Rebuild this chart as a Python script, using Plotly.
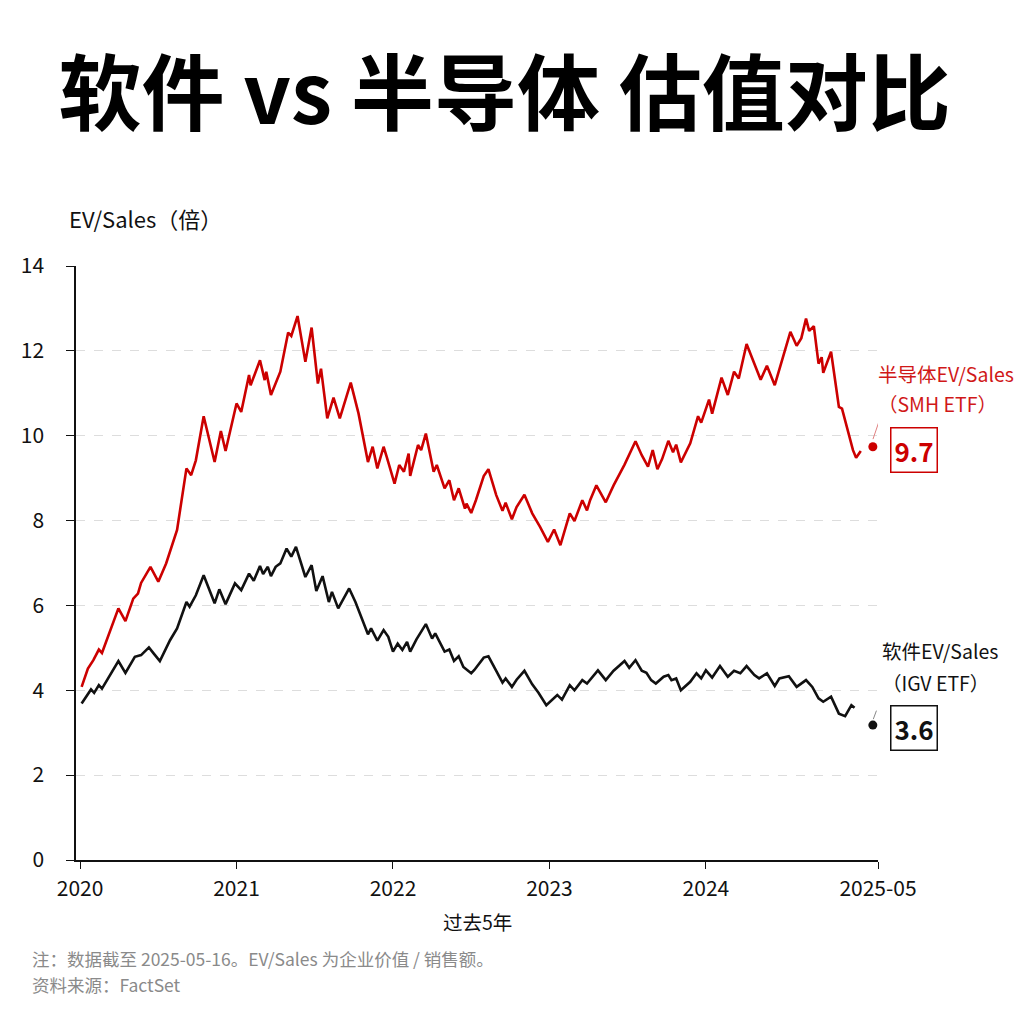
import plotly.graph_objects as go

# ---- data (time in fractional years, EV/Sales multiple) ----
smh_t = [2020.01, 2020.05, 2020.085, 2020.12, 2020.14, 2020.17, 2020.245, 2020.29, 2020.34, 2020.37,
         2020.39, 2020.45, 2020.48, 2020.50, 2020.55, 2020.62, 2020.68, 2020.71, 2020.74, 2020.79,
         2020.86, 2020.90, 2020.93, 2021.00, 2021.03, 2021.08, 2021.09, 2021.15, 2021.18, 2021.19,
         2021.22, 2021.26, 2021.28, 2021.33, 2021.35, 2021.39, 2021.44, 2021.48, 2021.52, 2021.54,
         2021.58, 2021.62, 2021.66, 2021.73, 2021.78, 2021.84, 2021.87, 2021.90, 2021.94, 2021.96,
         2022.01, 2022.04, 2022.07, 2022.10, 2022.11, 2022.16, 2022.18, 2022.21, 2022.26, 2022.28,
         2022.33, 2022.36, 2022.39, 2022.42, 2022.46, 2022.47, 2022.50, 2022.53, 2022.58, 2022.61,
         2022.66, 2022.70, 2022.72, 2022.76, 2022.79, 2022.84, 2022.89, 2022.94, 2022.99, 2023.03,
         2023.07, 2023.13, 2023.16, 2023.21, 2023.24, 2023.26, 2023.30, 2023.36, 2023.41, 2023.48,
         2023.55, 2023.59, 2023.63, 2023.66, 2023.69, 2023.72, 2023.76, 2023.79, 2023.81, 2023.84,
         2023.90, 2023.95, 2023.97, 2024.02, 2024.04, 2024.10, 2024.14, 2024.18, 2024.21, 2024.26,
         2024.32, 2024.35, 2024.39, 2024.44, 2024.54, 2024.58, 2024.61, 2024.64, 2024.66, 2024.69,
         2024.72, 2024.74, 2024.75, 2024.80, 2024.85, 2024.87, 2024.94, 2024.96, 2024.99]
smh_v = [4.08, 4.51, 4.71, 4.96, 4.88, 5.18, 5.93, 5.63, 6.16, 6.28,
         6.53, 6.91, 6.71, 6.56, 6.99, 7.78, 9.23, 9.07, 9.42, 10.46,
         9.38, 10.11, 9.64, 10.76, 10.56, 11.43, 11.19, 11.78, 11.31, 11.51,
         10.96, 11.35, 11.51, 12.43, 12.35, 12.82, 11.74, 12.55, 11.23, 11.58,
         10.41, 10.90, 10.41, 11.25, 10.52, 9.38, 9.74, 9.23, 9.74, 9.50,
         8.87, 9.31, 9.15, 9.58, 9.05, 9.78, 9.66, 10.05, 9.15, 9.31,
         8.76, 8.95, 8.48, 8.76, 8.28, 8.40, 8.18, 8.48, 9.05, 9.21,
         8.60, 8.23, 8.42, 8.03, 8.32, 8.61, 8.17, 7.85, 7.50, 7.79,
         7.42, 8.17, 7.99, 8.48, 8.24, 8.48, 8.83, 8.43, 8.83, 9.32,
         9.87, 9.54, 9.27, 9.66, 9.21, 9.45, 9.88, 9.61, 9.79, 9.37,
         9.82, 10.46, 10.31, 10.85, 10.52, 11.37, 10.96, 11.51, 11.35, 12.16,
         11.62, 11.32, 11.65, 11.19, 12.45, 12.12, 12.30, 12.76, 12.47, 12.58,
         11.70, 11.85, 11.48, 11.98, 10.68, 10.64, 9.66, 9.48, 9.64]

igv_t = [2020.01, 2020.04, 2020.07, 2020.09, 2020.12, 2020.14, 2020.18, 2020.245, 2020.29, 2020.35,
         2020.39, 2020.44, 2020.47, 2020.51, 2020.575, 2020.62, 2020.68, 2020.70, 2020.74, 2020.79,
         2020.86, 2020.89, 2020.93, 2020.99, 2021.03, 2021.08, 2021.11, 2021.15, 2021.17, 2021.20,
         2021.22, 2021.25, 2021.28, 2021.32, 2021.35, 2021.38, 2021.44, 2021.48, 2021.51, 2021.55,
         2021.59, 2021.61, 2021.65, 2021.72, 2021.76, 2021.84, 2021.86, 2021.90, 2021.94, 2021.97,
         2022.00, 2022.03, 2022.06, 2022.09, 2022.11, 2022.15, 2022.21, 2022.25, 2022.27, 2022.33,
         2022.36, 2022.39, 2022.42, 2022.45, 2022.50, 2022.52, 2022.58, 2022.61, 2022.66, 2022.70,
         2022.72, 2022.76, 2022.79, 2022.84, 2022.89, 2022.93, 2022.98, 2023.05, 2023.08, 2023.13,
         2023.16, 2023.21, 2023.24, 2023.31, 2023.36, 2023.41, 2023.48, 2023.51, 2023.55, 2023.59,
         2023.62, 2023.65, 2023.68, 2023.73, 2023.76, 2023.78, 2023.81, 2023.84, 2023.90, 2023.94,
         2023.97, 2024.00, 2024.04, 2024.09, 2024.14, 2024.18, 2024.22, 2024.26, 2024.31, 2024.34,
         2024.39, 2024.44, 2024.47, 2024.53, 2024.58, 2024.64, 2024.68, 2024.72, 2024.75, 2024.80,
         2024.85, 2024.89, 2024.93, 2024.95]
igv_v = [3.69, 3.85, 4.02, 3.94, 4.12, 4.04, 4.28, 4.69, 4.41, 4.79,
         4.83, 5.01, 4.87, 4.69, 5.18, 5.46, 6.08, 5.97, 6.24, 6.71,
         6.05, 6.38, 6.03, 6.52, 6.36, 6.75, 6.58, 6.93, 6.74, 6.91,
         6.69, 6.91, 6.99, 7.34, 7.15, 7.38, 6.67, 6.95, 6.34, 6.69,
         6.08, 6.32, 5.93, 6.40, 6.08, 5.32, 5.46, 5.17, 5.42, 5.26,
         4.91, 5.10, 4.95, 5.14, 4.91, 5.20, 5.56, 5.22, 5.34, 4.91,
         4.96, 4.69, 4.80, 4.55, 4.40, 4.48, 4.77, 4.80, 4.46, 4.18,
         4.28, 4.08, 4.25, 4.46, 4.14, 3.94, 3.65, 3.89, 3.78, 4.12,
         4.00, 4.24, 4.16, 4.47, 4.24, 4.46, 4.69, 4.53, 4.71, 4.46,
         4.41, 4.24, 4.16, 4.32, 4.36, 4.24, 4.28, 4.00, 4.20, 4.40,
         4.28, 4.47, 4.30, 4.57, 4.32, 4.46, 4.40, 4.57, 4.36, 4.28,
         4.40, 4.10, 4.28, 4.33, 4.08, 4.24, 4.08, 3.81, 3.73, 3.85,
         3.45, 3.39, 3.65, 3.59]

end_t = 2025.067
smh_end_dot = 9.74
igv_end_dot = 3.18
smh_label_val = "9.7"
igv_label_val = "3.6"

tick_vals = [2020, 2021, 2022, 2023, 2024, 2025.10]
tick_text = ["2020", "2021", "2022", "2023", "2024", "2025-05"]

RED = "#cc0000"
BLACK = "#111111"
FONT = "Noto Sans CJK SC"

fig = go.Figure()
fig.add_trace(go.Scatter(x=smh_t, y=smh_v, mode="lines", line=dict(color=RED, width=2.6),
                         showlegend=False, cliponaxis=False))
fig.add_trace(go.Scatter(x=igv_t, y=igv_v, mode="lines", line=dict(color=BLACK, width=2.6),
                         showlegend=False, cliponaxis=False))
fig.add_trace(go.Scatter(x=[end_t], y=[smh_end_dot], mode="markers",
                         marker=dict(color=RED, size=9), showlegend=False, cliponaxis=False))
fig.add_trace(go.Scatter(x=[end_t], y=[igv_end_dot], mode="markers",
                         marker=dict(color=BLACK, size=9), showlegend=False, cliponaxis=False))

# small leader ticks from dots toward labels
fig.add_shape(type="line", xref="x", yref="y", x0=2025.068, y0=9.92, x1=2025.105, y1=10.32,
              line=dict(color="#e08080", width=1))
fig.add_shape(type="line", xref="x", yref="y", x0=2025.07, y0=3.32, x1=2025.09, y1=3.52,
              line=dict(color="#888888", width=1))

annots = [
    dict(x=-0.011, y=(860 - 218) / 594, text="EV/Sales（倍）", font=dict(size=22, color=BLACK),
         xanchor="left", yanchor="middle"),
    dict(x=0.5, y=-0.104, text="过去5年", font=dict(size=19.5, color=BLACK),
         xanchor="center", yanchor="middle"),
    dict(x=-0.0574, y=-0.165, text="注：数据截至 2025-05-16。EV/Sales 为企业价值 / 销售额。",
         font=dict(size=17.5, color="#8a8a8a"), xanchor="left", yanchor="middle"),
    dict(x=-0.0574, y=-0.210, text="资料来源：FactSet",
         font=dict(size=17.5, color="#8a8a8a"), xanchor="left", yanchor="middle"),
    dict(x=0.998, y=(860 - 373) / 594, text="半导体EV/Sales", font=dict(size=19.5, color="#d01818"),
         xanchor="left", yanchor="middle"),
    dict(x=0.998, y=(860 - 403) / 594, text="（SMH ETF）", font=dict(size=19.5, color="#d01818"),
         xanchor="left", yanchor="middle"),
    dict(x=1.015, y=(860 - 450) / 594, text="<b>" + smh_label_val + "</b>",
         font=dict(size=26, color=RED), xanchor="left", yanchor="middle",
         bordercolor=RED, borderwidth=1.5, borderpad=3, bgcolor="white"),
    dict(x=1.002, y=(860 - 650) / 594, text="软件EV/Sales", font=dict(size=19.5, color=BLACK),
         xanchor="left", yanchor="middle"),
    dict(x=1.002, y=(860 - 682) / 594, text="（IGV ETF）", font=dict(size=19.5, color=BLACK),
         xanchor="left", yanchor="middle"),
    dict(x=1.015, y=(860 - 728) / 594, text="<b>" + igv_label_val + "</b>",
         font=dict(size=26, color=BLACK), xanchor="left", yanchor="middle",
         bordercolor=BLACK, borderwidth=1.5, borderpad=3, bgcolor="white"),
]
for a in annots:
    a.update(xref="paper", yref="paper", showarrow=False)
    fig.add_annotation(**a)

# the page adds an 8px body margin, so the figure is shifted up/left by 8px to compensate
fig.update_layout(
    width=1024, height=1024,
    paper_bgcolor="white", plot_bgcolor="white",
    margin=dict(l=68, r=154, t=258, b=172),
    font=dict(family=FONT, color=BLACK),
    title=dict(text="<b>软件 vs 半导体 估值对比</b>", x=0.485, xanchor="center",
               y=1 - 87 / 1024, yanchor="middle", yref="container",
               font=dict(size=83, color="#000000", family=FONT)),
)
fig.update_xaxes(range=[2019.974, 2025.10], tickvals=tick_vals, ticktext=tick_text,
                 showgrid=False, zeroline=False, showline=True, linecolor=BLACK, linewidth=1.5,
                 ticks="outside", ticklen=7, tickcolor=BLACK, ticklabelstandoff=2,
                 tickfont=dict(size=21, color=BLACK))
fig.update_yaxes(range=[0, 14], tickvals=[0, 2, 4, 6, 8, 10, 12, 14],
                 showgrid=True, gridcolor="#dddddd", griddash="dash", gridwidth=1,
                 zeroline=False, showline=True, linecolor=BLACK, linewidth=1.5,
                 ticks="outside", ticklen=8, tickcolor=BLACK, ticklabelstandoff=18,
                 tickfont=dict(size=21, color=BLACK))

fig.write_html("out.html")
